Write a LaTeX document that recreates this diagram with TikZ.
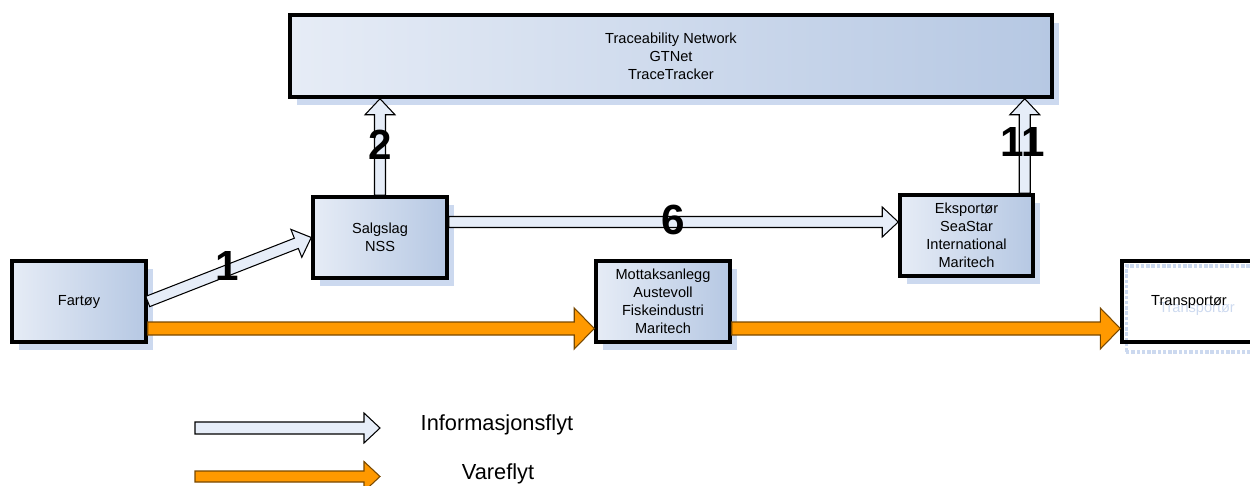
\documentclass[tikz,border=0pt]{standalone}
\usepackage{fontspec}
\setmainfont{Liberation Sans}
\usetikzlibrary{calc,shadows}
\pgfdeclarelayer{background}
\pgfsetlayers{background,main}
\definecolor{box light}{RGB}{230,236,246}
\definecolor{box dark}{RGB}{182,200,227}
\definecolor{shadow blue}{RGB}{204,217,239}
\definecolor{info fill}{RGB}{230,237,248}
\definecolor{goods fill}{RGB}{255,153,0}
\definecolor{goods edge}{RGB}{120,72,0}
\def\stations{{(79,301.5)/fartoy/134/81/{Fartøy}}, {(380,237.5)/salgslag/134/81/{Salgslag\\NSS}}, {(663,301.5)/mottak/134/81/{Mottaksanlegg\\Austevoll\\Fiskeindustri\\Maritech}}, {(966.5,235.5)/eksportor/133/81/{Eksportør\\SeaStar\\International\\Maritech}}, {(671,56)/trace/762/82/{Traceability Network\\GTNet\\TraceTracker}}}
% block arrow: style, from, to, half shaft, half head, head length
\def\flowarrow#1#2#3#4#5#6{
  \coordinate (neck) at ($(#3)!#6!(#2)$);
  \path[#1] ($(#2)!#4!90:(#3)$) -- ($(neck)!#4!90:(#3)$) -- ($(neck)!#5!90:(#3)$) -- (#3)
    -- ($(neck)!#5!-90:(#3)$) -- ($(neck)!#4!-90:(#3)$) -- ($(#2)!#4!-90:(#3)$) -- cycle;
}
\tikzset{
  station/.style={draw=black, line width=2pt, left color=box light, right color=box dark,
    drop shadow={shadow xshift=0.14cm, shadow yshift=-0.16cm, fill=shadow blue, opacity=1},
    align=center, inner sep=1pt, font=\fontsize{8.3}{10.2}\selectfont},
  end station/.style={draw=black, line width=2pt, align=center, font=\fontsize{8.3}{10.2}\selectfont}
  }
\tikzstyle{info arrow}=[draw=black, line width=0.6pt, fill=info fill]
\tikzstyle{goods arrow}=[draw=goods edge, line width=0.6pt, fill=goods fill]
\tikzstyle{flow number}=[font=\fontsize{24}{24}\selectfont\bfseries, inner sep=0pt]
\tikzstyle{legend text}=[font=\fontsize{12.4}{14}\selectfont, inner sep=0pt]

\begin{document}
\begin{tikzpicture}[x=0.02cm, y=-0.02cm]
  \useasboundingbox (0,0) rectangle (1250,486);

  % The stations along the chain
  \foreach \pos/\name/\bw/\bh/\txt in \stations {
    \node[station, minimum width=\bw*0.02cm, minimum height=\bh*0.02cm] (\name) at \pos {\txt};
  }

  % the last one is open
  \node[end station, minimum width=2.68cm, minimum height=1.62cm] (transportor) at (1189,301.5) {Transportør};
  \begin{pgfonlayer}{background}
    \draw[shadow blue, densely dotted, line width=2pt] ($(transportor.south west)+(6,8)$) rectangle ($(transportor.north east)+(6,7)$);
    \node[end station, draw=none, text=shadow blue] (transportor-ghost) at ($(transportor.center)+(8,7)$) {Transportør};
  \end{pgfonlayer}

  % where the arrows start and end
  \coordinate (info2-to) at (salgslag.north |- trace.south);
  \coordinate (info6-from) at ($(salgslag.east)+(0,-15.5)$);
  \coordinate (info6-to) at (info6-from -| eksportor.west);
  \coordinate (info11-from) at ($(eksportor.north east)+(-10,0)$);
  \coordinate (info11-to) at (info11-from |- trace.south);
  \coordinate (goods1-from) at ($(fartoy.east)+(0,27)$);
  \coordinate (goods1-to) at (goods1-from -| mottak.west);
  \coordinate (goods2-from) at ($(mottak.east)+(0,27)$);
  \coordinate (goods2-to) at (goods2-from -| transportor.west);

  % Information flow
  \flowarrow{info arrow}{fartoy.east}{salgslag.west}{0.11cm}{0.3cm}{0.32cm}
  \flowarrow{info arrow}{salgslag.north}{info2-to}{0.11cm}{0.3cm}{0.32cm}
  \flowarrow{info arrow}{info6-from}{info6-to}{0.11cm}{0.3cm}{0.32cm}
  \flowarrow{info arrow}{info11-from}{info11-to}{0.11cm}{0.3cm}{0.32cm}

  % Goods flow
  \flowarrow{goods arrow}{goods1-from}{goods1-to}{0.13cm}{0.41cm}{0.4cm}
  \flowarrow{goods arrow}{goods2-from}{goods2-to}{0.13cm}{0.41cm}{0.4cm}

  % The step numbers
  \node[flow number] (step1) at (227,266) {1};
  \node[flow number] (step2) at (380,145) {2};
  \node[flow number] (step6) at (673,220) {6};
  \node[flow number] (step11) at (1023,142) {11};

  % legend
  \coordinate (legend-info-start) at (195,428);
  \coordinate (legend-info-end) at (380,428);
  \coordinate (legend-goods-start) at (195,476.5);
  \coordinate (legend-goods-end) at (380,476.5);
  \flowarrow{info arrow}{legend-info-start}{legend-info-end}{0.12cm}{0.3cm}{0.32cm}
  \flowarrow{goods arrow}{legend-goods-start}{legend-goods-end}{0.11cm}{0.3cm}{0.32cm}
  \node[legend text] (legend-info) at (497,425) {Informasjonsflyt};
  \node[legend text] (legend-goods) at (498,474) {Vareflyt};
\end{tikzpicture}
\end{document}
